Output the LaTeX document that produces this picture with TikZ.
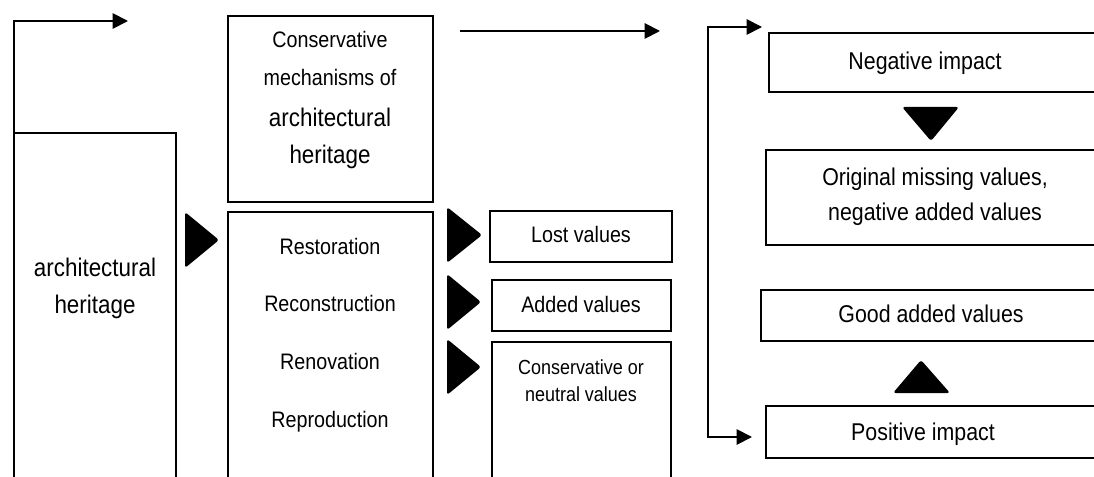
\documentclass[tikz,border=0pt]{standalone}
\usepackage{fontspec}
\setmainfont[FakeStretch=0.88]{Liberation Sans}
\usetikzlibrary{arrows.meta,fit}
\begin{document}
\begin{tikzpicture}[x=0.75pt,y=-0.75pt,
  box/.style={draw,line width=1.4pt,inner sep=0pt,outer sep=0pt},
  tri/.style={fill=black,rounded corners=2pt},
  lbl/.style={inner sep=0pt,anchor=base},
  big/.style={font=\fontsize{19.1}{23}\selectfont},
  mid/.style={font=\fontsize{18.2}{22}\selectfont},
  small/.style={font=\fontsize{16.8}{20}\selectfont},
  tiny/.style={font=\fontsize{15.3}{18}\selectfont},
  tip/.style={Triangle[length=11.5pt,width=11.5pt]},
  arr/.style={line width=1.4pt,-{Triangle[length=11.5pt,width=11.5pt]}}]
\useasboundingbox (0,0) rectangle (1094,477);
\clip (0,0) rectangle (1094,477);
% boxes
\node[box,fit={(14,133) (176,530)}] (lbox) {};
\node[box,fit={(228,16) (433,202)}] (tbox) {};
\node[box,fit={(228,212) (433,530)}] (mbox) {};
\node[box,fit={(490,211) (672,262)}] (lost) {};
\node[box,fit={(492,280) (671,331)}] (added) {};
\node[box,fit={(492,342) (671,530)}] (cons) {};
\node[box,fit={(769,33) (1130,92)}] (neg) {};
\node[box,fit={(766,150) (1130,245)}] (orig) {};
\node[box,fit={(761,290) (1130,341)}] (good) {};
\node[box,fit={(766,406) (1130,458)}] (pos) {};
% texts
\node[lbl,big] (tl1) at (95,276) {architectural};
\node[lbl,big] (tl2) at (95,313) {heritage};
\node[lbl,small] (tt1) at (330,48) {Conservative};
\node[lbl,small] (tt2) at (330,86) {mechanisms of};
\node[lbl,big] (tt3) at (330,127) {architectural};
\node[lbl,big] (tt4) at (330,164) {heritage};
\node[lbl,small] (m1) at (330,254) {Restoration};
\node[lbl,small] (m2) at (330,311) {Reconstruction};
\node[lbl,small] (m3) at (330,369) {Renovation};
\node[lbl,small] (m4) at (330,427) {Reproduction};
\node[lbl,small] (t1) at (581,243) {Lost values};
\node[lbl,small] (t2) at (581,312) {Added values};
\node[lbl,tiny] (t3) at (581,374) {Conservative or};
\node[lbl,tiny] (t4) at (581,401) {neutral values};
\node[lbl,mid] (r1) at (925,70) {Negative impact};
\node[lbl,mid] (r2) at (935,186) {Original missing values,};
\node[lbl,mid] (r3) at (935,220) {negative added values};
\node[lbl,mid] (r4) at (931,322) {Good added values};
\node[lbl,mid] (r5) at (923,440) {Positive impact};
% triangles
\fill[tri] (185,212) -- (219,240) -- (185,268) -- cycle;
\fill[tri] (447,207) -- (482,235) -- (447,263) -- cycle;
\fill[tri] (447,274) -- (481,302) -- (447,330) -- cycle;
\fill[tri] (447,339) -- (481,367) -- (447,395) -- cycle;
\fill[tri] (902,107) -- (959,107) -- (931,141) -- cycle;
\fill[tri] (893,393) -- (950,393) -- (921,360) -- cycle;
% connectors
\coordinate (e1) at (128,21);
\draw[arr] (lbox.north west) |- (e1);
\coordinate (h1) at (460,31);
\coordinate (h2) at (660,31);
\draw[arr] (h1) -- (h2);
\coordinate (b1) at (762,27);
\coordinate (b2) at (752,437);
\coordinate (bc) at (708,235);
\draw[line width=1.4pt,{Triangle[length=11.5pt,width=11.5pt]}-{Triangle[length=11.5pt,width=11.5pt]}] (b1) -| (bc) |- (b2);
\end{tikzpicture}
\end{document}
